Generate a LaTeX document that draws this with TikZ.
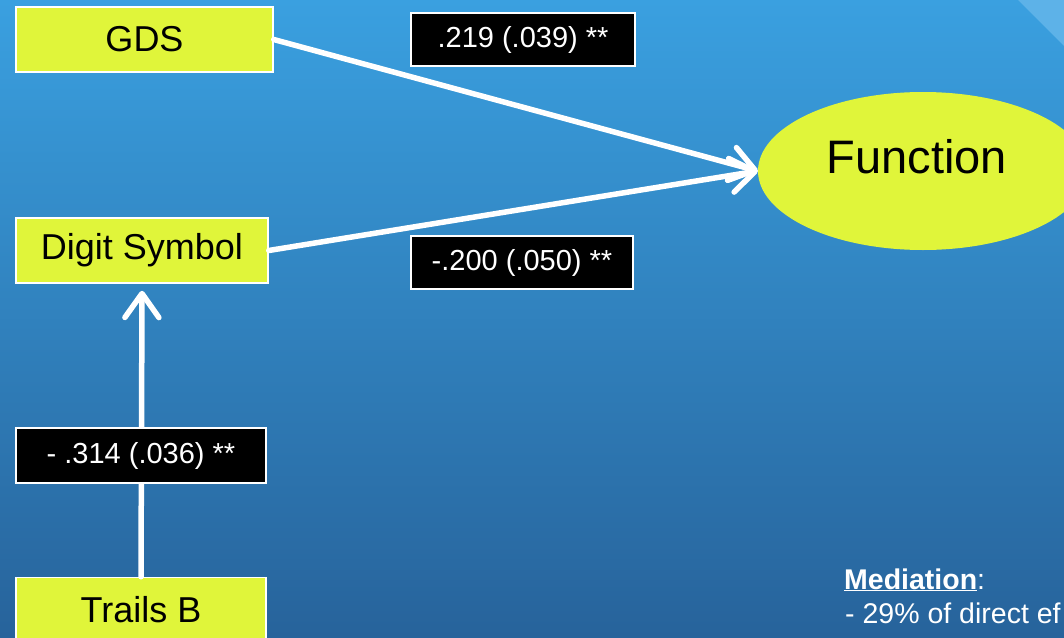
\documentclass[tikz,border=0pt]{standalone}
\usepackage{fontspec}
\setmainfont{Liberation Sans}
\usetikzlibrary{shapes.geometric,arrows.meta}
\definecolor{bgtop}{HTML}{3AA0E0}
\definecolor{bgbot}{HTML}{27639B}
\definecolor{bgband}{HTML}{5DB2E8}
\definecolor{boxfill}{HTML}{E0F53A}
\tikzset{
  varbox/.style={draw=white, line width=1.5pt, fill=boxfill, text=black, inner sep=0pt,
    minimum width=#1, minimum height=65pt, font=\fontsize{36}{43}\selectfont},
  coefbox/.style={draw=white, line width=1.5pt, fill=black, text=white, inner sep=0pt,
    minimum width=#1, minimum height=53pt, font=\fontsize{29}{35}\selectfont},
  arr/.style={draw=white, line width=5.5pt, line cap=round,
    -{Straight Barb[length=24pt, width=34pt, line cap=round, line join=round]}},
  medtext/.style={text=white, inner sep=0pt, anchor=base west, font=\fontsize{28.5}{34}\selectfont}
}
\begin{document}
\begin{tikzpicture}[x=1pt, y=-1pt]
  \useasboundingbox (0,0) rectangle (1064,637);
  \clip (0,0) rectangle (1064,637);
  \shade[top color=bgtop, bottom color=bgbot] (0,0) rectangle (1064,637);
  \fill[bgband] (1018,0) -- (1064,0) -- (1064,46) -- cycle;

  \node[varbox=257pt] (gds) at (144.5,39.5) {GDS};
  \node[varbox=252pt] (digit) at (142,250.5) {Digit Symbol};
  \node[varbox=250pt] (trails) at (141,610) {Trails B};

  \node[ellipse, fill=boxfill, draw=none, inner sep=0pt,
        minimum width=330pt, minimum height=158pt] (func) at (923,171) {};
  \node[text=black, inner sep=0pt, font=\fontsize{47}{56}\selectfont] (functext) at (917,157) {Function};

  \draw[arr] (gds.east) -- (func.west);
  \draw[arr] (digit.east) -- (func.west);
  \draw[arr] (trails.north) -- ([yshift=-7pt]digit.south);

  \node[coefbox=224pt] (c1) at (523,39.5) {.219 (.039) **};
  \node[coefbox=222pt] (c2) at (522,262.5) {-.200 (.050) **};
  \node[coefbox=250pt, minimum height=55pt] (c3) at (141,455.5) {- .314 (.036) **};

  \node[medtext] (med1) at (844,589) {\underline{\textbf{Mediation}}:};
  \node[medtext] (med2) at (845,623) {- 29\% of direct ef};
\end{tikzpicture}
\end{document}
